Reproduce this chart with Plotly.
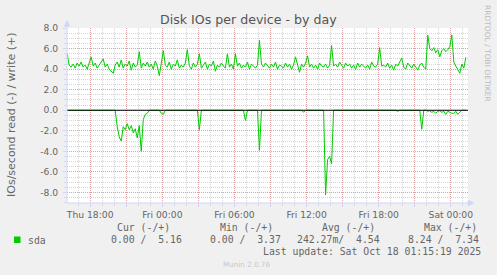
import plotly.graph_objects as go
import pandas as pd

# ---------------- data ----------------
start_time = "2025-10-16 16:05"
step = "10min"

write_ops = [
    5.5, 4.4, 4.2, 4.5, 4.1, 4.6, 4.3, 4.7, 4.2, 4.4, 4.0, 4.5, 5.2, 4.3, 4.6, 4.1, 4.4, 4.8, 5.0, 4.2,
    4.5, 4.0, 3.75, 3.6, 4.4, 4.7, 4.2, 4.9, 4.1, 4.5, 4.3, 4.8, 3.9, 4.6, 4.2, 4.4, 5.7, 4.1, 4.6, 4.3,
    4.7, 4.2, 4.5, 4.0, 4.8, 4.3, 3.37, 4.6, 5.8, 4.4, 4.2, 4.7, 4.0, 4.5, 4.3, 4.9, 4.1, 4.4, 4.2, 4.6,
    5.9, 4.3, 4.0, 4.6, 4.2, 4.5, 5.5, 4.1, 4.4, 4.7, 4.0, 4.5, 4.3, 4.8, 3.8, 4.4, 4.2, 4.6, 4.3, 4.1,
    5.5, 4.2, 4.5, 4.0, 5.5, 4.3, 4.6, 4.1, 4.4, 4.2, 4.7, 4.0, 4.5, 4.3, 4.1, 4.4, 6.8, 4.5, 4.2, 4.6,
    4.3, 4.1, 4.5, 4.2, 4.7, 4.0, 4.4, 4.3, 4.1, 4.6, 4.2, 4.5, 4.0, 4.4, 5.2, 4.3, 3.7, 4.5, 4.2, 4.6,
    5.3, 4.2, 4.5, 4.1, 4.4, 4.0, 4.6, 4.3, 4.2, 4.5, 4.1, 4.4, 6.3, 4.3, 4.5, 4.2, 4.7, 4.4, 4.1, 4.6,
    4.3, 4.5, 4.1, 4.4, 4.0, 4.6, 4.2, 4.5, 4.3, 4.1, 4.4, 4.0, 4.7, 4.3, 4.2, 4.5, 6.1, 4.3, 4.4, 4.2,
    4.6, 4.1, 4.4, 3.9, 4.5, 4.3, 4.7, 5.1, 4.2, 4.0, 4.6, 4.3, 4.1, 4.5, 4.2, 3.9, 4.4, 4.6, 4.2, 4.0,
    7.3, 6.0, 5.8, 6.1, 5.6, 5.9, 5.2, 5.8, 6.0, 5.7, 5.9, 6.2, 7.34, 4.7, 4.3, 4.0, 3.6, 4.5, 4.1, 5.16,
]

read_ops = [
    0, 0, 0, 0, 0, 0, 0, 0, 0, 0, 0, 0, 0, 0, 0, 0, 0, 0, 0, 0,
    0, 0, 0, 0, 0, 1.6, 2.6, 3.0, 1.6, 1.9, 1.3, 1.9, 1.5, 2.2, 1.8, 2.7, 1.5, 4.0, 0.9, 0.4,
    0.3, 0, 0, 0, 0, 0, 0, 0.3, 0.4, 0, 0, 0, 0, 0, 0, 0, 0, 0, 0, 0,
    0, 0, 0, 0, 0, 0, 1.9, 0, 0, 0, 0, 0, 0, 0, 0, 0, 0, 0, 0, 0,
    0, 0, 0, 0, 0, 0, 0, 0, 0, 1.0, 0, 0, 0, 0, 0, 0, 3.9, 0, 0, 0,
    0, 0, 0, 0, 0, 0, 0, 0, 0, 0, 0, 0, 0, 0, 0, 0, 0, 0, 0.2, 0,
    0, 0, 0, 0, 0, 0, 0, 0, 0, 8.24, 4.8, 4.5, 5.2, 0, 0, 0, 0, 0, 0, 0,
    0, 0, 0, 0, 0, 0, 0, 0, 0, 0, 0, 0, 0, 0, 0, 0, 0, 0, 0, 0,
    0, 0, 0, 0, 0, 0.1, 0, 0, 0, 0, 0, 0, 0, 0, 0, 0, 0, 1.85, 0, 0,
    0.1, 0.05, 0.2, 0.1, 0.3, 0.1, 0.05, 0.2, 0.1, 0.4, 0.1, 0.2, 0.3, 0.3, 0.1, 0.4, 0.2, 0, 0, 0,
]

x_tick_vals = ["2025-10-16 18:00", "2025-10-16 21:00", "2025-10-17 00:00", "2025-10-17 03:00",
               "2025-10-17 06:00", "2025-10-17 09:00", "2025-10-17 12:00", "2025-10-17 15:00",
               "2025-10-17 18:00", "2025-10-17 21:00", "2025-10-18 00:00"]
x_tick_text = ["Thu 18:00", "", "Fri 00:00", "", "Fri 06:00", "", "Fri 12:00", "",
               "Fri 18:00", "", "Sat 00:00"]
y_tick_vals = [-8, -6, -4, -2, 0, 2, 4, 6, 8]
y_tick_text = ["-8.0", "-6.0", "-4.0", "-2.0", "0.0", "2.0", "4.0", "6.0", "8.0"]

title_text = "Disk IOs per device - by day"
y_title = "IOs/second read (-) / write (+)"
legend_name = "sda"
col_headers = ["Cur (-/+)", "Min (-/+)", "Avg (-/+)", "Max (-/+)"]
col_values = ["0.00 /  5.16", "0.00 /  3.37", "242.27m/  4.54", "8.24 /  7.34"]
last_update = "Last update: Sat Oct 18 01:15:19 2025"
watermark = "RRDTOOL / TOBI OETIKER"
footer = "Munin 2.0.76"

# ---------------- layout geometry ----------------
W, H = 497, 275
L, R, T, B = 67, 468, 28, 203
x_range = ["2025-10-16 16:04:20", "2025-10-18 01:25:50"]
y_range = [-9.03, 8.01]

GREEN = "#00CC00"
AXIS = "#CFD6F8"
FONT = "#666666"
MGRID = "rgba(225,120,120,0.55)"
GRID = "rgba(160,160,160,0.45)"


def px(x):
    return (x - L) / (R - L)


def py(y):
    return (B - y) / (B - T)


def nb(s):
    return s.replace(" ", "\u00a0")


times = pd.date_range(start_time, periods=len(write_ops), freq=step)

fig = go.Figure()
fig.add_trace(go.Scatter(x=times, y=[-v for v in read_ops], mode="lines",
                         line=dict(color=GREEN, width=1), hoverinfo="skip"))
fig.add_trace(go.Scatter(x=times, y=write_ops, mode="lines",
                         line=dict(color=GREEN, width=1), hoverinfo="skip"))

fig.update_layout(
    width=W, height=H,
    margin=dict(l=L, r=W - R, t=T, b=H - B, pad=0),
    paper_bgcolor="#F0F0F0", plot_bgcolor="#FFFFFF",
    showlegend=False,
    font=dict(family="DejaVu Sans", color=FONT, size=9.2),
)

fig.update_xaxes(
    type="date", range=x_range,
    tickmode="array", tickvals=x_tick_vals, ticktext=x_tick_text,
    showgrid=True, gridcolor=MGRID, griddash="1px,1px", gridwidth=1,
    ticks="outside", ticklen=3, tickcolor=AXIS,
    tickfont=dict(size=9.2, color=FONT),
    minor=dict(dtick=3600000, tick0="2025-10-16 18:00", showgrid=True,
               gridcolor=GRID, griddash="1px,1px", gridwidth=1,
               ticks="outside", ticklen=2, tickcolor=AXIS),
    showline=False, zeroline=False,
)
fig.update_yaxes(
    range=y_range,
    tickmode="array", tickvals=y_tick_vals, ticktext=y_tick_text,
    showgrid=True, gridcolor=MGRID, griddash="1px,1px", gridwidth=1,
    ticks="outside", ticklen=3, tickcolor=AXIS,
    tickfont=dict(size=9.2, color=FONT),
    minor=dict(dtick=0.5, tick0=0, showgrid=True,
               gridcolor=GRID, griddash="1px,1px", gridwidth=1,
               ticks="outside", ticklen=2, tickcolor=AXIS),
    showline=False, zeroline=False, ticklabelstandoff=3,
)

shapes = []
# zero line
shapes.append(dict(type="line", xref="paper", yref="y", x0=0, x1=1, y0=0, y1=0,
                   line=dict(color="#000000", width=1), layer="above"))
# axes
shapes.append(dict(type="line", xref="paper", yref="paper", x0=px(67), x1=px(67),
                   y0=py(203), y1=py(22), line=dict(color=AXIS, width=1), layer="above"))
shapes.append(dict(type="line", xref="paper", yref="paper", x0=px(67), x1=px(470),
                   y0=py(203), y1=py(203), line=dict(color=AXIS, width=1), layer="above"))
# arrows
shapes.append(dict(type="path", xref="paper", yref="paper",
                   path=f"M {px(64)} {py(26.5)} L {px(70)} {py(26.5)} L {px(67)} {py(20.5)} Z",
                   fillcolor=AXIS, line=dict(color=AXIS, width=0.5), layer="above"))
shapes.append(dict(type="path", xref="paper", yref="paper",
                   path=f"M {px(468)} {py(200)} L {px(468)} {py(206)} L {px(474)} {py(203)} Z",
                   fillcolor=AXIS, line=dict(color=AXIS, width=0.5), layer="above"))
# legend swatch
shapes.append(dict(type="rect", xref="paper", yref="paper",
                   x0=px(14), x1=px(20.5), y0=py(243), y1=py(236.5),
                   fillcolor=GREEN, line=dict(width=0)))
fig.update_layout(shapes=shapes)

ann = []


def add_text(text, x, y, size, color=FONT, family="DejaVu Sans", xanchor="left",
             angle=0):
    ann.append(dict(text=text, x=px(x), y=py(y), xref="paper", yref="paper",
                    xanchor=xanchor, yanchor="middle", showarrow=False,
                    borderpad=0, textangle=angle,
                    font=dict(size=size, color=color, family=family)))


add_text(title_text, 248.5, 19.3, 12.6, color="#555555", xanchor="center")
add_text(y_title, 11, 115, 11, xanchor="center", angle=-90)
add_text(watermark, 487.5, 53.5, 7.5, color="#BBBBBB", xanchor="center", angle=90)

MONO = "DejaVu Sans Mono"
add_text(legend_name, 26.5, 240, 9.8, family=MONO)
for txt, x in zip(col_headers, [116, 219, 321, 422.7]):
    add_text(nb(txt), x, 227.7, 9.8, family=MONO)
for txt, x in zip(col_values, [110, 209.3, 296, 406.7]):
    add_text(nb(txt), x, 239.5, 9.8, family=MONO)
add_text(nb(last_update), 261.7, 251.2, 9.8, family=MONO)
add_text(footer, 246.5, 264.3, 7.2, color="#C8C8C8", xanchor="center")

fig.update_layout(annotations=ann)

fig.write_html("out.html")
